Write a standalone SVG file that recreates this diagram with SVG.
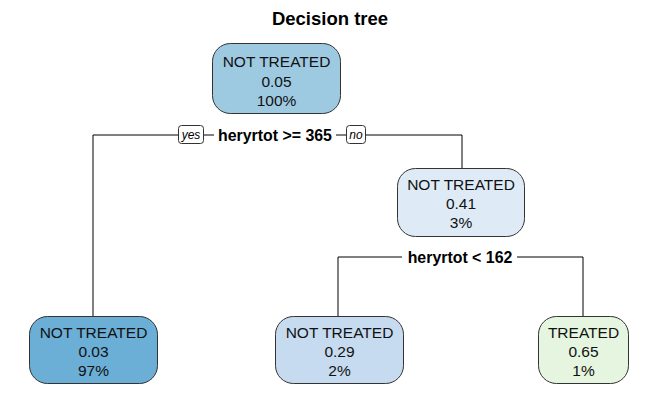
<svg xmlns="http://www.w3.org/2000/svg" width="665" height="409" viewBox="0 0 665 409">
<style>
.bg{fill:#ffffff}
.box{stroke:#333333;stroke-width:1}
.nt{font-family:"Liberation Sans",Arial,sans-serif;font-size:15.5px;fill:#111111;text-anchor:middle}
.split{font-family:"Liberation Sans",Arial,sans-serif;font-size:15.9px;font-weight:bold;fill:#000;text-anchor:middle}
.yn{font-family:"Liberation Sans",Arial,sans-serif;font-size:12px;font-style:italic;fill:#000;text-anchor:middle}
.ynbox{fill:#fff;stroke:#333;stroke-width:1}
.edge{fill:none;stroke:#000;stroke-width:1}
.title{font-family:"Liberation Sans",Arial,sans-serif;font-size:18.5px;font-weight:bold;fill:#000;text-anchor:middle}
</style>
<rect class="bg" x="0" y="0" width="665" height="409"/>
<text class="title" x="330" y="25">Decision tree</text>
<g id="connectors">
<polyline class="edge" points="93,316 93,135 178,135"/>
<line class="edge" x1="203" y1="135" x2="214" y2="135"/>
<line class="edge" x1="336" y1="135" x2="347" y2="135"/>
<polyline class="edge" points="365,135 462,135 462,168"/>
<polyline class="edge" points="338,316 338,257 402,257"/>
<polyline class="edge" points="517,257 583,257 583,316"/>
</g>
<g id="split1">
<rect class="ynbox" x="178.5" y="125.5" width="25" height="18" rx="3"/>
<text class="yn" x="191" y="139">yes</text>
<text class="split" x="275" y="141">heryrtot &gt;= 365</text>
<rect class="ynbox" x="346.5" y="125.5" width="19" height="18" rx="3"/>
<text class="yn" x="356" y="139">no</text>
</g>
<g id="split2">
<text class="split" x="460" y="263">heryrtot &lt; 162</text>
</g>
<g id="node-root">
<rect class="box" x="212.5" y="43.5" width="128" height="70" rx="18" fill="#9ECAE1"/>
<text class="nt" x="276.5" y="67">NOT TREATED</text>
<text class="nt" x="276.5" y="87">0.05</text>
<text class="nt" x="276.5" y="106">100%</text>
</g>
<g id="node-right">
<rect class="box" x="397.5" y="168.5" width="127" height="68" rx="18" fill="#DEEBF7"/>
<text class="nt" x="461" y="190">NOT TREATED</text>
<text class="nt" x="461" y="209">0.41</text>
<text class="nt" x="461" y="228">3%</text>
</g>
<g id="leaf-left">
<rect class="box" x="29.5" y="316.5" width="128" height="67" rx="18" fill="#6BAED6"/>
<text class="nt" x="93.5" y="338">NOT TREATED</text>
<text class="nt" x="93.5" y="357">0.03</text>
<text class="nt" x="93.5" y="376">97%</text>
</g>
<g id="leaf-mid">
<rect class="box" x="275.5" y="316.5" width="128" height="67" rx="18" fill="#C6DBEF"/>
<text class="nt" x="339.5" y="338">NOT TREATED</text>
<text class="nt" x="339.5" y="357">0.29</text>
<text class="nt" x="339.5" y="376">2%</text>
</g>
<g id="leaf-right">
<rect class="box" x="538.5" y="316.5" width="90" height="67" rx="18" fill="#E5F5E0"/>
<text class="nt" x="583.5" y="338">TREATED</text>
<text class="nt" x="583.5" y="357">0.65</text>
<text class="nt" x="583.5" y="376">1%</text>
</g>
</svg>
